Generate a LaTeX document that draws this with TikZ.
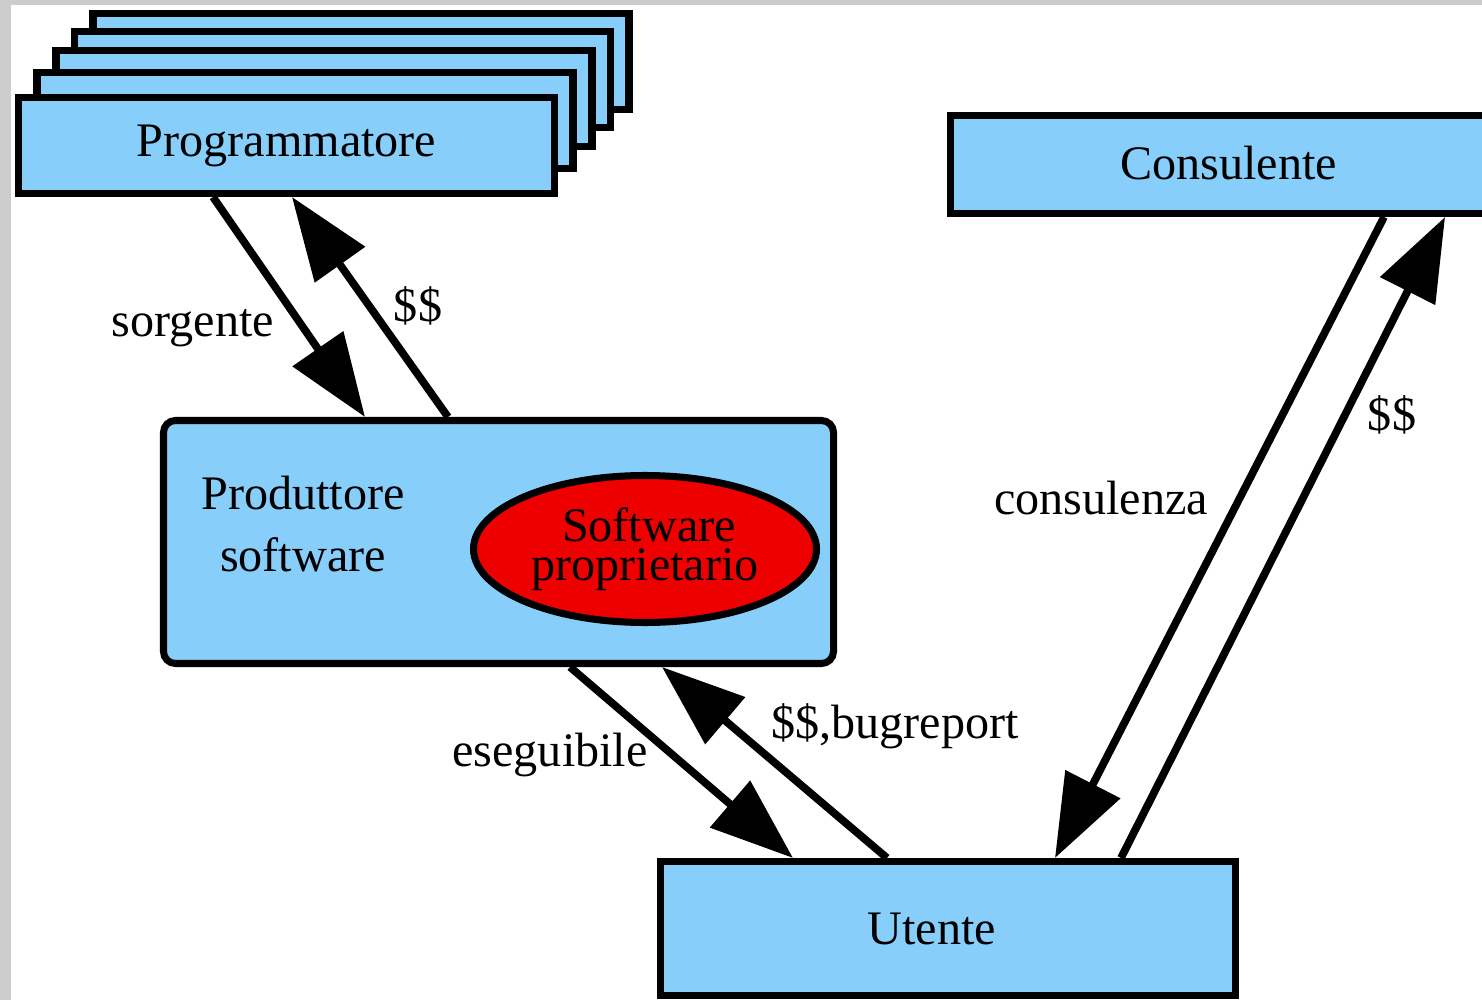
\documentclass[tikz,border=0pt]{standalone}
\usepackage{fontspec}
\setmainfont{Liberation Serif}
\usetikzlibrary{shapes, arrows.meta, positioning}
\definecolor{celeste}{RGB}{135,206,250}
\definecolor{rosso}{RGB}{238,0,0}
\definecolor{cornice}{RGB}{204,204,204}
\tikzstyle{block} = [rectangle, draw, fill=celeste, line width=2pt, inner sep=0pt, text centered]
\tikzstyle{progbox} = [block, minimum width=5.36cm, minimum height=0.96cm]
\tikzstyle{flow} = [-{Triangle[length=0.83cm, width=0.6cm]}, line width=2.2pt]

\begin{document}
\begin{tikzpicture}[auto, font=\fontsize{13.7}{16}\selectfont]
		% Cornice
		\useasboundingbox (0,0) rectangle (14.82,-10);
		\clip (0,0) rectangle (14.82,-10);
		\fill[cornice] (0,0) rectangle (14.82,-10);
		\fill[white] (0.11,-0.05) rectangle (14.82,-10);
		
		% Pila programmatori
		\foreach \dx/\dy [count=\i] in {0.745/0.84, 0.56/0.66, 0.375/0.47, 0.185/0.25}
			\node [progbox] (prog\i) at (2.865+\dx,-1.455+\dy) {};
		\node [progbox] (prog) at (2.865,-1.455) {Programmatore};
		
		% Consulente
		\node [block, minimum width=5.56cm, minimum height=0.98cm] (cons) at (12.285,-1.645) {\raisebox{0.04cm}{Consulente}};
		
		% Produttore software
		\node [block, rounded corners=0.12cm, minimum width=6.70cm, minimum height=2.43cm] (prod) at (4.985,-5.42) {};
		\node [align=center, font=\fontsize{13.7}{17.6}\selectfont] (teksprod) at (3.03,-5.24) {Produttore\\software};
		\node [ellipse, draw, fill=rosso, line width=2pt, inner sep=0pt, minimum width=3.43cm, minimum height=1.47cm,
			align=center, font=\fontsize{13.7}{11}\selectfont] (swprop) at (6.45,-5.49) {\hspace*{0.08cm}Software\\proprietario};
		
		% Utente
		\node [block, minimum width=5.75cm, minimum height=1.34cm] (ute) at (9.48,-9.285) {Utente\hspace*{0.32cm}};
		
		\draw[flow] ([xshift=-0.735cm]prog.south) -- ([xshift=-1.335cm]prod.north);
		\draw[flow] ([xshift=-0.505cm]prod.north) -- ([xshift=0.055cm]prog.south);
		\draw[flow] ([xshift=0.715cm]prod.south) -- ([xshift=-1.55cm]ute.north);
		\draw[flow] ([xshift=-0.61cm]ute.north) -- ([xshift=1.635cm]prod.south);
		\draw[flow] ([xshift=1.555cm]cons.south) -- ([xshift=1.07cm]ute.north);
		\draw[flow] ([xshift=1.73cm]ute.north) -- ([xshift=2.165cm]cons.south);
		
		% Etichette
		\node (lsorg) at (1.93,-3.28) {sorgente};
		\node (lsoldi1) at (4.18,-3.06) {\$\$};
		\node (lesegui) at (5.50,-7.55) {eseguibile};
		\node (lbug) at (8.95,-7.26) {\$\$,bugreport};
		\node (lcons) at (11.01,-4.98) {consulenza};
		\node (lsoldi2) at (13.92,-4.15) {\$\$};
	\end{tikzpicture}
\end{document}
